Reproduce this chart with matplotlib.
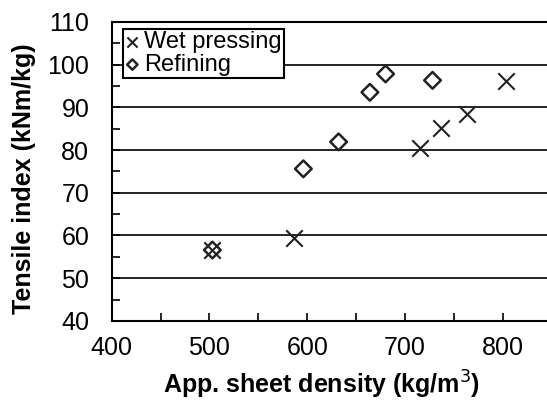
import matplotlib
matplotlib.use("Agg")
import matplotlib.pyplot as plt
from matplotlib.ticker import MultipleLocator

plt.rcParams['font.family'] = ['Liberation Sans', 'DejaVu Sans']

# Wet pressing series
wet_density = [503, 586, 715, 737, 763, 803]
wet_tensile = [56.6, 59.5, 80.5, 85.1, 88.4, 96.2]

# Refining series
ref_density = [503, 596, 632, 664, 680, 728]
ref_tensile = [56.6, 75.6, 81.9, 93.5, 97.8, 96.3]

x_ticks = [400, 500, 600, 700, 800]
y_ticks = [40, 50, 60, 70, 80, 90, 100, 110]
grid_levels = [50, 60, 70, 80, 90, 100]

fig = plt.figure(figsize=(5.47, 4.03), dpi=100)
ax = fig.add_axes([0.204, 0.2035, 0.796, 0.7425])

for g in grid_levels:
    ax.axhline(g, color='black', lw=1.2, zorder=1)

ax.scatter(wet_density, wet_tensile, marker='x', s=140, color='#222222',
           linewidths=1.5, label='Wet pressing', zorder=3)
ax.scatter(ref_density, ref_tensile, marker='D', s=72, facecolors='none',
           edgecolors='#222222', linewidths=1.8, label='Refining', zorder=3)

ax.set_xlim(400, 845)
ax.set_ylim(40, 110)
ax.set_xticks(x_ticks)
ax.set_yticks(y_ticks)
ax.xaxis.set_minor_locator(MultipleLocator(50))
ax.yaxis.set_minor_locator(MultipleLocator(5))
ax.tick_params(which='both', direction='in', width=1.2, colors='black')
ax.tick_params(which='major', length=6, labelsize=18)
ax.tick_params(which='minor', length=6)
ax.tick_params(axis='y', which='major', pad=16)
ax.tick_params(axis='x', which='major', pad=11)

for side in ['left', 'bottom', 'top']:
    ax.spines[side].set_linewidth(1.5)
ax.spines['right'].set_visible(False)

ax.set_xlabel('App. sheet density (kg/m$^3$)', fontsize=18, fontweight='bold')
ax.set_ylabel('Tensile index (kNm/kg)', fontsize=18, fontweight='bold')
ax.xaxis.set_label_coords(0.483, -0.16)
ax.yaxis.set_label_coords(-0.174, 0.475)

leg = ax.legend(loc='upper left', bbox_to_anchor=(0.026, 0.976), fontsize=17,
                frameon=True, fancybox=False, edgecolor='black', framealpha=1,
                handlelength=0.6, handletextpad=0.2, borderpad=0.1,
                labelspacing=0.02, borderaxespad=0, markerscale=0.62)
leg.get_frame().set_linewidth(1.5)

fig.savefig('out.png', dpi=100)
